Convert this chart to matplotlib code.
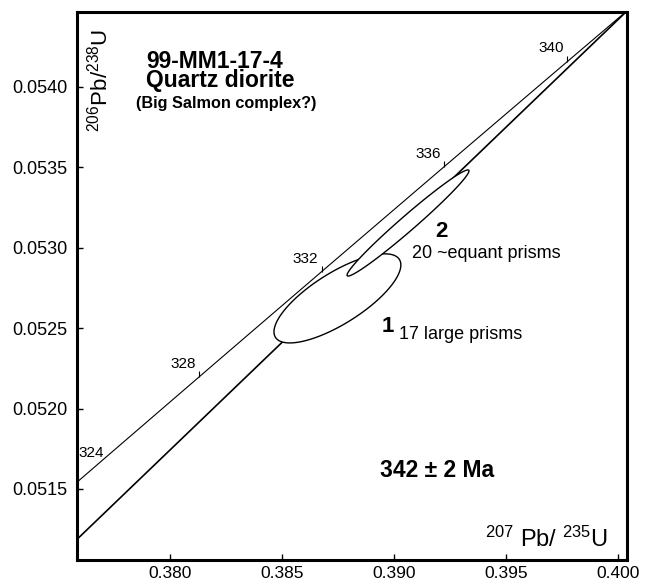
import numpy as np
import matplotlib

matplotlib.use("Agg")
import matplotlib.pyplot as plt
from matplotlib.markers import TICKUP

# U decay constants (1/yr), used for the concordia reference curve
LAMBDA_238 = 1.55125e-10
LAMBDA_235 = 9.8485e-10

# zircon fractions: 207Pb/235U, 206Pb/238U with 2-sigma errors and error correlation
FRACTIONS = ["1", "2"]
FRACTION_NOTES = ["17 large prisms", "20 ~equant prisms"]
PB207_U235 = [0.38747, 0.39062]
PB207_U235_ERR = [0.00283, 0.00272]
PB206_U238 = [0.052685, 0.053154]
PB206_U238_ERR = [0.000277, 0.000330]
RHO = [0.75, 0.982]

CONCORDIA_TICK_AGES = [324, 328, 332, 336, 340]  # Ma
UPPER_INTERCEPT = 342  # Ma
LOWER_INTERCEPT = 40.5  # Ma

XTICKS = [0.380, 0.385, 0.390, 0.395, 0.400]
YTICKS = [0.0515, 0.0520, 0.0525, 0.0530, 0.0535, 0.0540]


def concordia(age_ma):
    t = np.asarray(age_ma, dtype=float) * 1e6
    return np.expm1(LAMBDA_235 * t), np.expm1(LAMBDA_238 * t)


def error_ellipse(x, sx, y, sy, rho, n=240):
    th = np.linspace(0.0, 2.0 * np.pi, n)
    ex = x + sx * np.cos(th)
    ey = y + sy * (rho * np.cos(th) + np.sqrt(1.0 - rho**2) * np.sin(th))
    return ex, ey


plt.rcParams["font.family"] = ["Liberation Sans", "DejaVu Sans"]
plt.rcParams["mathtext.default"] = "regular"

fig = plt.figure(figsize=(6.53, 5.82), dpi=100)
ax = fig.add_axes([0.1175, 0.0378, 0.8422, 0.9421])

# discordia through the intercept ages (hidden inside the ellipses)
dx, dy = concordia([LOWER_INTERCEPT, UPPER_INTERCEPT])
ax.plot(dx, dy, color="k", lw=1.2, zorder=1)

for i in range(len(FRACTIONS)):
    ex, ey = error_ellipse(PB207_U235[i], PB207_U235_ERR[i], PB206_U238[i], PB206_U238_ERR[i], RHO[i])
    ax.fill(ex, ey, facecolor="white", edgecolor="k", lw=1.0, zorder=2 + i)

# concordia curve with age ticks
cx, cy = concordia(np.linspace(300, 360, 300))
ax.plot(cx, cy, color="k", lw=0.8, zorder=5)
tx, ty = concordia(CONCORDIA_TICK_AGES)
ax.plot(tx, ty, ls="none", marker=TICKUP, ms=4, mew=0.8, color="k", zorder=5)
for age, x, y in zip(CONCORDIA_TICK_AGES, tx, ty):
    if age == CONCORDIA_TICK_AGES[0]:
        ax.annotate(str(age), (x, y), xytext=(0.5, 18), textcoords="offset points",
                    ha="left", va="baseline", fontsize=11)
    else:
        ax.annotate(str(age), (x, y), xytext=(-2.5, 6.5), textcoords="offset points",
                    ha="right", va="baseline", fontsize=11)

# fraction labels
ax.text(0.38944, 0.052478, FRACTIONS[0], fontsize=16, fontweight="bold", va="baseline")
ax.text(0.39022, 0.052431, FRACTION_NOTES[0], fontsize=13, va="baseline")
ax.text(0.39183, 0.053065, FRACTIONS[1], fontsize=16, fontweight="bold", va="baseline")
ax.text(0.39078, 0.052935, FRACTION_NOTES[1], fontsize=13, va="baseline")

# sample annotations (baseline of the last line)
ax.text(0.37892, 0.054002, "99-MM1-17-4\nQuartz diorite", fontsize=16.5, fontweight="bold",
        va="baseline", linespacing=0.78)
ax.text(0.37849, 0.053868, "(Big Salmon complex?)", fontsize=11.7, fontweight="bold", va="baseline")
ax.text(0.38938, 0.051575, f"{UPPER_INTERCEPT} \u00b1 2 Ma", fontsize=16.5, fontweight="bold",
        va="baseline")

# axis titles sit inside the frame
ax.text(0.042, 0.970, r"$^{206}$Pb/$^{238}$U", transform=ax.transAxes, rotation=90,
        ha="center", va="top", fontsize=16)
ax.text(0.966, 0.023, r"$^{207}$ Pb/ $^{235}$U", transform=ax.transAxes,
        ha="right", va="baseline", fontsize=17)

ax.set_xlim(0.37584, 0.400375)
ax.set_ylim(0.051058, 0.054468)
ax.set_xticks(XTICKS)
ax.set_yticks(YTICKS)
ax.set_xticklabels([f"{v:.3f}" for v in XTICKS])
ax.set_yticklabels([f"{v:.4f}" for v in YTICKS])
ax.tick_params(direction="in", length=4, width=1)
ax.tick_params(axis="x", labelsize=12.5, pad=4.5)
ax.tick_params(axis="y", labelsize=13, pad=7)
for sp in ax.spines.values():
    sp.set_linewidth(2.2)

fig.savefig("out.png", dpi=100)
